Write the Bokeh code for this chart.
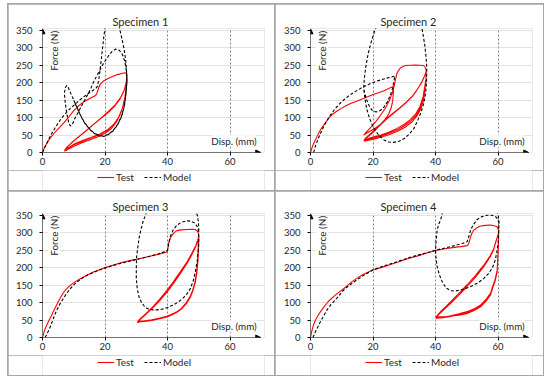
import math
from bokeh.plotting import figure
from bokeh.layouts import column
from bokeh.models import (Legend, LegendItem, Arrow, NormalHead, FixedTicker,
                          Range1d, GridBox)
from bokeh.core.properties import value
from bokeh.embed import file_html
from bokeh.resources import INLINE

# ---------------- data ----------------
TITLES = ["Specimen 1", "Specimen 2", "Specimen 3", "Specimen 4"]
SERIES = ["Test", "Model"]
X_LABEL = "Disp. (mm)"
Y_LABEL = "Force (N)"
X_TICKS = [0, 20, 40, 60]
Y_TICKS = [0, 50, 100, 150, 200, 250, 300, 350]

s1_test_x = [0, 0.5, 1.5, 2.5, 4, 5.5, 7, 8.5, 10, 11.5, 13, 14.5, 16, 17, 17.5, 18, 18.5, 19.5, 21, 22.5, 24, 25.5, 26.5, 27,
             26.9, 26.6, 26, 25, 23.7, 22, 20, 17.7, 15, 12.4, 10, 8.5, 7.5, 7,
             7.5, 8.5, 10.2, 12.5, 15.6, 18, 21, 23, 24.7, 26, 26.9, 27,
             26.8, 26.3, 25.5, 24.2, 22.5, 20.5, 18, 15, 12.4, 10, 8.5, 7.2,
             7.8, 9, 10.5, 13, 16, 18.5, 21, 23.3, 25, 26.2, 27,
             26.85, 26.4, 25.7, 24.5, 22.8, 20.8, 18.4, 15.5, 12.8, 10.3, 8.7, 7.3]
s1_test_f = [0, 12, 28, 42, 58, 72, 87, 103, 120, 133, 144, 152, 159, 163, 172, 186, 196, 205, 212, 218, 223, 227, 228, 225,
             200, 170, 140, 112, 88, 68, 55, 45, 36, 27, 18, 11, 6, 4,
             11, 21, 35, 52, 75, 93, 114, 132, 152, 175, 199, 214,
             185, 155, 125, 98, 77, 62, 50, 40, 31, 22, 14, 8,
             15, 25, 37, 55, 78, 97, 117, 137, 158, 180, 210,
             188, 160, 130, 103, 81, 65, 53, 43, 34, 25, 16, 9]

s1_model_x = [0, 1, 2, 3, 4, 5, 6, 7, 8, 9, 10, 11, 12, 13, 14, 15, 16, 17, 17.6,
              18.1, 18.6, 19.1, 19.6, 20.1, 20.7, 21.6, 22.6, 23.6, 24.5, 25.3, 26, 26.6, 26.9, 27,
              26.7, 26.2, 25.3, 24, 22.5, 21, 19.5, 18, 16.5, 15, 13.5, 12.2, 11, 10, 9, 8.3, 7.8, 7.3, 7,
              7.3, 7.8, 8.4, 8.9, 9.5, 10.5, 12, 13.5, 15, 16.5, 18, 19.5, 21, 22.3, 23.4, 24.5, 25.5, 26.3, 26.8, 27,
              26.7, 26.2, 25.3, 24, 22.5, 21, 19.5, 18, 16.5, 15, 13.5, 12.2, 11, 10]
s1_model_f = [0, 20, 38, 55, 70, 84, 97, 108, 118, 127, 135, 143, 151, 158, 165, 171, 177, 183, 190,
              215, 250, 290, 330, 365, 395, 418, 425, 405, 360, 330, 300, 266, 230, 205,
              170, 135, 105, 80, 62, 52, 47, 49, 56, 68, 85, 106, 130, 150, 170, 185, 192, 186, 170,
              140, 110, 85, 76, 80, 100, 125, 150, 175, 205, 230, 255, 275, 290, 296, 293, 282, 262, 235, 205,
              168, 133, 103, 79, 61, 51, 46, 48, 55, 67, 84, 105, 129, 149]

s2_test_x = [0, 0.5, 1.1, 2, 2.7, 3.7, 4.8, 5.8, 6.9, 8.5, 10, 11.2, 13, 14.8, 16.5, 18.5, 20, 21.8, 23.5, 25, 26.6,
             26.5, 26.3, 25.8, 25, 23.8, 22.3, 20.8, 19.3, 18, 17,
             18, 19.5, 21, 22.5, 24, 25.3, 26.2, 26.8,
             27.2, 27.7, 28.7, 30.3, 32, 33.5, 35, 36.2, 36.8, 37,
             36.9, 36.6, 36.2, 35.3, 34, 32.5, 30.5, 28.2, 25.5, 23, 20.5, 18.5, 17.2,
             17.5, 18.5, 20, 21.8, 24, 26, 28.2, 30.5, 32.5, 34, 35.5, 36.5, 37,
             36.9, 36.6, 36.1, 35.2, 33.9, 32.3, 30.3, 28, 25.3, 22.8, 20.3, 18.4, 17.1,
             17.6, 18.6, 20.1, 22, 24.2, 26.2, 28.4, 30.7, 32.7, 34.2, 35.7, 36.6, 37,
             36.9, 36.5, 36, 35, 33.7, 32, 30, 27.7, 25, 22.5, 20, 18.2, 17]
s2_test_f = [0, 14, 28, 44, 57, 72, 86, 98, 109, 119, 127, 133, 141, 147, 153, 160, 166, 171, 177, 183, 190,
             172, 148, 128, 110, 94, 80, 70, 62, 56, 50,
             60, 74, 90, 108, 128, 150, 172, 192,
             210, 228, 242, 249, 250, 250.5, 250, 249, 242, 233,
             205, 180, 152, 125, 104, 88, 74, 62, 52, 45, 39, 35, 32,
             38, 46, 58, 74, 93, 108, 124, 142, 160, 178, 200, 220, 232,
             208, 183, 156, 129, 108, 92, 78, 66, 56, 48, 42, 37, 34,
             41, 49, 61, 77, 96, 111, 127, 145, 163, 181, 203, 222, 230,
             210, 186, 159, 132, 111, 95, 81, 69, 58, 50, 44, 39, 36]

s2_model_x = [1, 1.6, 2.4, 3.2, 4, 4.8, 6, 7.5, 9, 10.7, 12.5, 14.4, 16.5, 18.5, 20.5, 22.5, 24.5, 26, 27,
              26.6, 26.2, 25.5, 24.6, 23.5, 22.3, 21, 19.8, 18.8, 18, 17.4, 17,
              17.2, 17.6, 18.2, 18.9, 19.7, 20.6, 21.6, 22.8, 24.5, 26.5, 29, 31.5, 33.5, 35, 35.8, 36.5, 37, 37.2,
              37.1, 36.8, 36.2, 35.3, 34.2, 33, 31.5, 30, 28.3, 26.5, 25, 23.5, 22, 20.7, 19.7, 18.8, 18, 17.5, 17.1, 17]
s2_model_f = [0, 19, 38, 55, 70, 84, 102, 121, 137, 151, 164, 175, 186, 195, 202, 208, 213, 216, 219,
              200, 182, 163, 145, 130, 120, 116, 120, 133, 150, 168, 185,
              210, 240, 272, 300, 325, 350, 372, 392, 410, 425, 430, 420, 400, 375, 348, 310, 270, 240,
              200, 170, 140, 114, 90, 68, 52, 40, 32, 29, 30, 36, 48, 63, 80, 100, 124, 150, 175, 190]

s3_test_x = [0, 0.5, 1.1, 1.9, 2.7, 3.7, 4.8, 5.8, 6.9, 8, 9, 10.5, 12.2, 14.3, 16.5, 18.3, 20, 22.5, 25, 28, 31.3, 34, 37, 39.8,
             40.1, 40.3, 40.8, 41.4, 42.2, 43, 44.5, 46.2, 47.5, 48.8, 49.5, 49.9,
             49.8, 49.6, 49.3, 48.8, 48, 47.2, 46, 44.5, 43, 41.5, 39.8, 37.5, 35, 32.5, 30.8, 30.3,
             31, 32, 33.4, 35.5, 37.7, 39.8, 41.9, 44, 46.2, 47.8, 49, 49.6, 49.9,
             49.8, 49.6, 49.3, 48.8, 48, 47.2, 46, 44.5, 43, 41.5, 39.8, 37.5, 35, 32.5, 30.8, 30.4,
             31, 32, 33.4, 35.5, 37.7, 39.8, 41.9, 44, 46.2, 47.8, 49, 49.6, 50,
             49.9, 49.7, 49.4, 48.9, 48.1, 47.3, 46.1, 44.6, 43.1, 41.6, 39.9, 37.6, 35.1, 32.6, 30.9, 30.5]
s3_test_f = [0, 16, 31, 46, 60, 79, 98, 115, 131, 142, 150, 160, 169, 179, 188, 194, 200, 207, 214, 220, 226, 232, 238, 245,
             255, 269, 283, 293, 301, 306, 308, 309, 309.5, 309, 305, 298,
             260, 220, 190, 160, 135, 117, 100, 84, 74, 67, 61, 56, 51, 47, 44, 43,
             50, 58, 69, 87, 108, 130, 155, 182, 212, 238, 260, 275, 288,
             255, 215, 185, 156, 132, 114, 97, 82, 72, 65, 59, 54, 49, 46, 45, 45,
             52, 60, 71, 90, 112, 135, 160, 187, 216, 242, 263, 278, 290,
             258, 218, 188, 159, 134, 116, 99, 84, 74, 67, 61, 56, 51, 48, 47, 47]

s3_model_x = [0.85, 1.4, 2.1, 2.9, 3.7, 4.6, 5.5, 6.4, 7.7, 9, 10.5, 12.2, 14.3, 16.5, 18.3, 20, 22.5, 25, 28, 31.3, 34, 37, 40,
              40.3, 40.9, 41.8, 43, 44.5, 46.2, 47.5, 48.8, 49.5, 49.9, 50,
              49.9, 49.5, 48.9, 48.3, 47.3, 46.2, 45.1, 43.5, 41.8, 40, 38.2, 36.6, 35.2, 34, 32.8, 31.8, 30.9, 30.3, 30, 30,
              30.1, 30.5, 30.9, 31.5, 32.1, 32.9, 33.8, 35, 37, 40, 43, 45.5, 47.5, 48.8, 49.5, 49.9, 50]
s3_model_f = [0, 10, 22, 40, 60, 79, 95, 108, 126, 141, 155, 167, 178, 187, 194, 199, 206, 212, 219, 226, 232, 239, 249,
              265, 290, 308, 322, 330, 334, 333, 327, 317, 305, 288,
              255, 220, 190, 165, 140, 125, 114, 102, 93, 86, 81, 79, 79, 81, 87, 98, 115, 140, 170, 200,
              230, 260, 285, 310, 330, 350, 372, 392, 410, 420, 420, 410, 390, 370, 350, 330, 300]

s4_test_x = [0, 0.5, 1, 1.6, 2.4, 3.2, 4, 4.8, 6, 7.4, 8.7, 10.1, 11.7, 13.3, 14.9, 16.5, 18.2, 19.9, 22.5, 24.9, 28, 31.3, 34, 37, 40, 43, 46, 48.5, 50.1,
             50.6, 51.2, 51.7, 52.2, 53.2, 54.4, 56, 57.6, 58.8, 59.7, 60.2,
             60.1, 59.9, 59.7, 59, 58.2, 57.6, 56.2, 54.4, 52.3, 50.1, 47.5, 44.8, 42.5, 40.6, 40.1,
             40.6, 41.5, 43, 44.8, 47.3, 50.1, 52.8, 55.4, 57.4, 58.6, 59.1, 59.8, 60.2,
             60.1, 59.9, 59.7, 59, 58.2, 57.6, 56.2, 54.4, 52.3, 50.1, 47.5, 44.8, 42.5, 40.6, 40.1,
             40.6, 41.5, 43, 44.8, 47.3, 50.1, 52.8, 55.4, 57.4, 58.6, 59.1, 59.8, 60.2,
             60.1, 59.9, 59.7, 59, 58.2, 57.6, 56.2, 54.4, 52.3, 50.1, 47.5, 44.8, 42.5, 40.6, 40.1]
s4_test_f = [0, 22, 37, 50, 63, 74, 84, 93, 106, 117, 127, 136, 148, 160, 170, 179, 186, 193, 200, 207, 216, 226, 233, 241, 249, 254, 258, 261, 263,
             269, 288, 300, 307, 314, 319, 321, 322, 320, 317, 307,
             270, 230, 193, 165, 145, 127, 110, 93, 82, 74, 68, 62, 58, 55, 55,
             62, 70, 83, 98, 120, 146, 173, 203, 230, 252, 269, 288, 303,
             268, 228, 190, 162, 142, 124, 107, 90, 79, 71, 65, 60, 57, 56, 57,
             64, 73, 86, 102, 125, 151, 178, 207, 233, 254, 270, 289, 302,
             266, 226, 188, 160, 140, 122, 105, 88, 77, 69, 64, 61, 59, 59, 60]

s4_model_x = [0.75, 1.2, 1.6, 2.4, 3.2, 4.2, 5.3, 6.6, 8, 9, 10.1, 11.5, 13.3, 15, 17, 19.9, 22.5, 25, 28, 31.3, 34, 37, 40, 43, 46, 48.5, 50.1,
              50.5, 51.2, 52, 53.3, 54.8, 56.5, 58, 59.1, 59.8, 60.2, 60.2,
              60, 59.6, 59.1, 58.2, 57, 55.3, 53.3, 50.8, 48, 46.2, 44.8, 43.3, 42.1, 41.2, 40.5, 40.1, 40,
              40.2, 40.5, 41, 41.6, 42.4, 43.5, 45, 48, 52, 55.5, 58, 59.3, 60, 60.3, 60.2]
s4_model_f = [0, 8, 17, 31, 46, 62, 79, 95, 108, 119, 131, 143, 155, 166, 178, 193, 202, 209, 218, 228, 235, 242, 250, 256, 263, 269, 274,
              285, 307, 322, 338, 346, 350, 350, 347, 340, 330, 307,
              270, 245, 222, 200, 184, 168, 155, 144, 136, 133, 134, 142, 160, 180, 203, 230, 250,
              280, 307, 325, 336, 364, 390, 410, 425, 425, 415, 395, 370, 350, 330, 307]

TEST_X = [s1_test_x, s2_test_x, s3_test_x, s4_test_x]
TEST_F = [s1_test_f, s2_test_f, s3_test_f, s4_test_f]
MODEL_X = [s1_model_x, s2_model_x, s3_model_x, s4_model_x]
MODEL_F = [s1_model_f, s2_model_f, s3_model_f, s4_model_f]

# ---------------- style / layout ----------------
FONT = "Lato"
TXT = "#262626"
RED = "#ff0000"
X_MAX, Y_MAX = 71, 355
PANEL_W = [266, 268, 266, 268]
MAIN_H = [166, 166, 164, 164]
TOP_B = [24, 24, 22, 22]
LEFT_B = [34, 35, 34, 35]
LEG_H = 20
NAN = float("nan")


def make_panel(i):
    w = PANEL_W[i]
    p = figure(width=w, height=MAIN_H[i], x_range=Range1d(0, X_MAX), y_range=Range1d(0, Y_MAX),
               output_backend="svg", toolbar_location=None,
               min_border_left=LEFT_B[i], min_border_right=w - LEFT_B[i] - 222,
               min_border_top=TOP_B[i], min_border_bottom=18)
    p.outline_line_color = None
    p.background_fill_color = "white"
    p.border_fill_color = "white"

    p.title.text = TITLES[i]
    p.title.align = "left"
    p.title.offset = 70
    p.title.standoff = 1
    p.title.text_font = FONT
    p.title.text_font_size = "11px"
    p.title.text_font_style = "normal"
    p.title.text_color = TXT

    for ax, ticks in ((p.xaxis, X_TICKS), (p.yaxis, Y_TICKS)):
        ax.ticker = FixedTicker(ticks=ticks)
        ax.axis_line_color = None
        ax.major_tick_line_color = "black"
        ax.major_tick_in = 0
        ax.major_tick_out = 3
        ax.minor_tick_line_color = None
        ax.major_label_text_font = FONT
        ax.major_label_text_font_size = "9.5px"
        ax.major_label_text_color = TXT
    p.xaxis.major_label_standoff = 2
    p.yaxis.major_label_standoff = 7

    p.xgrid.ticker = FixedTicker(ticks=X_TICKS)
    p.xgrid.grid_line_color = "#808080"
    p.xgrid.grid_line_dash = "2 2"
    p.ygrid.ticker = FixedTicker(ticks=Y_TICKS)
    p.ygrid.grid_line_color = "#c4c4c4"
    p.ygrid.grid_line_dash = "1 1"

    p.add_layout(Arrow(end=NormalHead(size=5, fill_color="black", line_color="black"),
                       x_start=0, y_start=0, x_end=0, y_end=Y_MAX - 1,
                       line_color="black", line_width=1))
    p.add_layout(Arrow(end=NormalHead(size=5, fill_color="black", line_color="black"),
                       x_start=0, y_start=0, x_end=X_MAX - 1.2, y_end=0,
                       line_color="black", line_width=1))

    p.text(x=[3.7], y=[348], text=[Y_LABEL], angle=math.pi / 2, text_align="right",
           text_baseline="middle", text_font=value(FONT), text_font_size=value("10px"),
           text_color=TXT, background_fill_color="white")
    p.text(x=[68.5], y=[32], text=[X_LABEL], text_align="right", text_baseline="middle",
           text_font=value(FONT), text_font_size=value("9.8px"), text_color=TXT,
           background_fill_color="white")

    p.line(TEST_X[i], TEST_F[i], line_color=RED, line_width=1.1)
    p.line(MODEL_X[i], MODEL_F[i], line_color="black", line_width=1.1, line_dash="3 2")

    # legend strip under the axis (proxy renderers hold no visible points)
    lf = figure(width=w, height=LEG_H, x_range=Range1d(0, 1), y_range=Range1d(0, 1),
                output_backend="svg", toolbar_location=None, min_border=0,
                x_axis_location=None, y_axis_location=None)
    lf.grid.visible = False
    lf.outline_line_color = None
    lf.border_fill_color = "white"
    lt = lf.line(x=[NAN, NAN], y=[NAN, NAN], line_color=RED, line_width=1.1)
    lm = lf.line(x=[NAN, NAN], y=[NAN, NAN], line_color="black", line_width=1.1, line_dash="3 2")
    legend = Legend(items=[LegendItem(label=SERIES[0], renderers=[lt]),
                           LegendItem(label=SERIES[1], renderers=[lm])],
                    orientation="horizontal", location=(55, 7),
                    border_line_color=None, background_fill_alpha=0,
                    padding=0, margin=0, spacing=8, label_standoff=2,
                    glyph_width=17, glyph_height=10, label_height=10,
                    label_text_font=FONT, label_text_font_size="10px",
                    label_text_color=TXT)
    lf.add_layout(legend)
    return column(p, lf, spacing=0)


panels = [make_panel(i) for i in range(4)]
grid = GridBox(children=[(panels[0], 0, 0), (panels[1], 0, 1), (panels[2], 1, 0), (panels[3], 1, 1)],
               spacing=1, margin=(4, 0, 0, 8),
               styles={"background-color": "#a6a6a6", "outline": "1px solid #a6a6a6"})

open("out.html", "w").write(file_html(grid, INLINE))
